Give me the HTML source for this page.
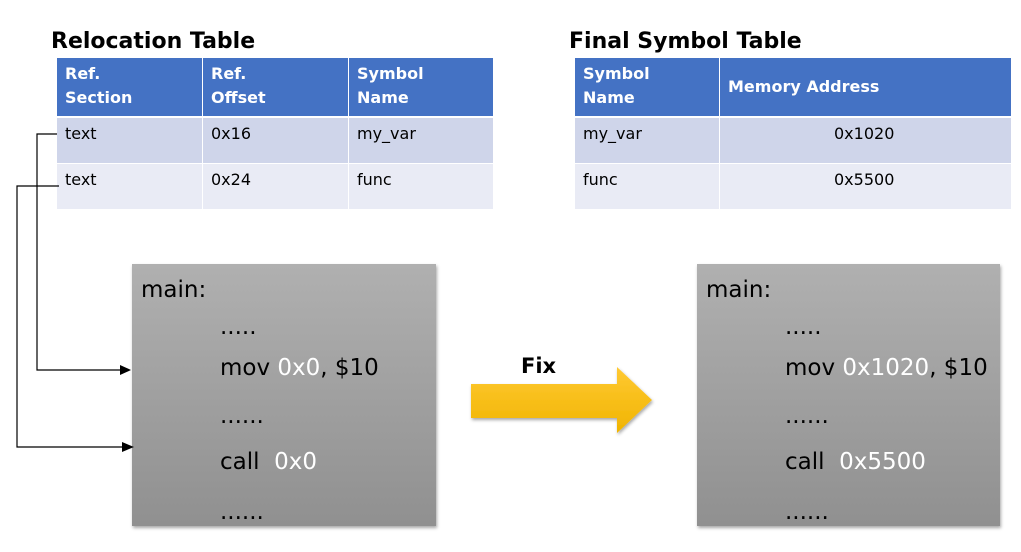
<!DOCTYPE html>
<html><head><meta charset="utf-8"><style>
body{margin:0;width:1021px;height:552px;background:#fff;position:relative;overflow:hidden;font-family:"DejaVu Sans","Noto Sans CJK KR",sans-serif;}
.a{position:absolute;white-space:nowrap;}
.t{font-weight:bold;font-size:22px;color:#000;}
.c{position:absolute;box-sizing:border-box;padding:4px 8px;font-size:16px;color:#000;line-height:24px;white-space:nowrap;}
.h{background:#4472c4;color:#fff;font-weight:bold;}
.r1{background:#cfd5ea;}
.r2{background:#e9ebf5;}
.box{position:absolute;background:linear-gradient(#b0b0b0,#909090);box-shadow:1px 2px 3px rgba(0,0,0,.35);}
.m{position:absolute;font-size:23px;color:#000;white-space:nowrap;}
.w{color:#fff;}
</style></head><body>
<div class="a t" style="left:51px;top:29px;">Relocation Table</div>
<div class="a t" style="left:569px;top:29px;">Final Symbol Table</div>

<div class="c h" style="left:57px;top:58px;width:145px;height:58px;">Ref.<br>Section</div>
<div class="c h" style="left:203px;top:58px;width:145px;height:58px;">Ref.<br>Offset</div>
<div class="c h" style="left:349px;top:58px;width:144px;height:58px;">Symbol<br>Name</div>
<div class="c r1" style="left:57px;top:118px;width:145px;height:45px;">text</div>
<div class="c r1" style="left:203px;top:118px;width:145px;height:45px;">0x16</div>
<div class="c r1" style="left:349px;top:118px;width:144px;height:45px;">my_var</div>
<div class="c r2" style="left:57px;top:164px;width:145px;height:45px;">text</div>
<div class="c r2" style="left:203px;top:164px;width:145px;height:45px;">0x24</div>
<div class="c r2" style="left:349px;top:164px;width:144px;height:45px;">func</div>

<div class="c h" style="left:575px;top:58px;width:144px;height:58px;">Symbol<br>Name</div>
<div class="c h" style="left:720px;top:58px;width:291px;height:58px;line-height:50px;">Memory Address</div>
<div class="c r1" style="left:575px;top:118px;width:144px;height:45px;">my_var</div>
<div class="c r1" style="left:720px;top:118px;width:291px;height:45px;padding-left:114px;">0x1020</div>
<div class="c r2" style="left:575px;top:164px;width:144px;height:45px;">func</div>
<div class="c r2" style="left:720px;top:164px;width:291px;height:45px;padding-left:114px;">0x5500</div>

<div class="box" style="left:132px;top:264px;width:304px;height:262px;"></div>
<div class="box" style="left:697px;top:264px;width:303px;height:262px;"></div>

<div class="m" style="left:141px;top:277px;">main:</div>
<div class="m" style="left:220px;top:314px;">.....</div>
<div class="m" style="left:220px;top:355px;">mov <span class="w">0x0</span>, $10</div>
<div class="m" style="left:220px;top:403px;">......</div>
<div class="m" style="left:220px;top:449px;">call &nbsp;<span class="w">0x0</span></div>
<div class="m" style="left:220px;top:499px;">......</div>

<div class="m" style="left:706px;top:277px;">main:</div>
<div class="m" style="left:785px;top:314px;">.....</div>
<div class="m" style="left:785px;top:355px;">mov <span class="w">0x1020</span>, $10</div>
<div class="m" style="left:785px;top:403px;">......</div>
<div class="m" style="left:785px;top:449px;">call &nbsp;<span class="w">0x5500</span></div>
<div class="m" style="left:785px;top:499px;">......</div>

<div class="a" style="left:521px;top:354px;font-size:21px;font-weight:bold;">Fix</div>

<svg class="a" style="left:0;top:0" width="1021" height="552">
<defs><linearGradient id="g" x1="0" y1="0" x2="0" y2="1"><stop offset="0" stop-color="#ffc933"/><stop offset="1" stop-color="#f0b400"/></linearGradient>
<filter id="s"><feDropShadow dx="1" dy="2" stdDeviation="1.5" flood-opacity=".35"/></filter></defs>
<polygon points="471,384 617,384 617,367 652,400 617,433 617,418 471,418" fill="url(#g)" filter="url(#s)"/>
<polyline points="57,134 37,134 37,370 122,370" fill="none" stroke="#000" stroke-width="1.2"/>
<polygon points="120,365 131,370 120,375" fill="#000"/>
<polyline points="59,186 17,186 17,447 124,447" fill="none" stroke="#000" stroke-width="1.2"/>
<polygon points="122,442 134,447 122,452" fill="#000"/>
</svg>
</body></html>
